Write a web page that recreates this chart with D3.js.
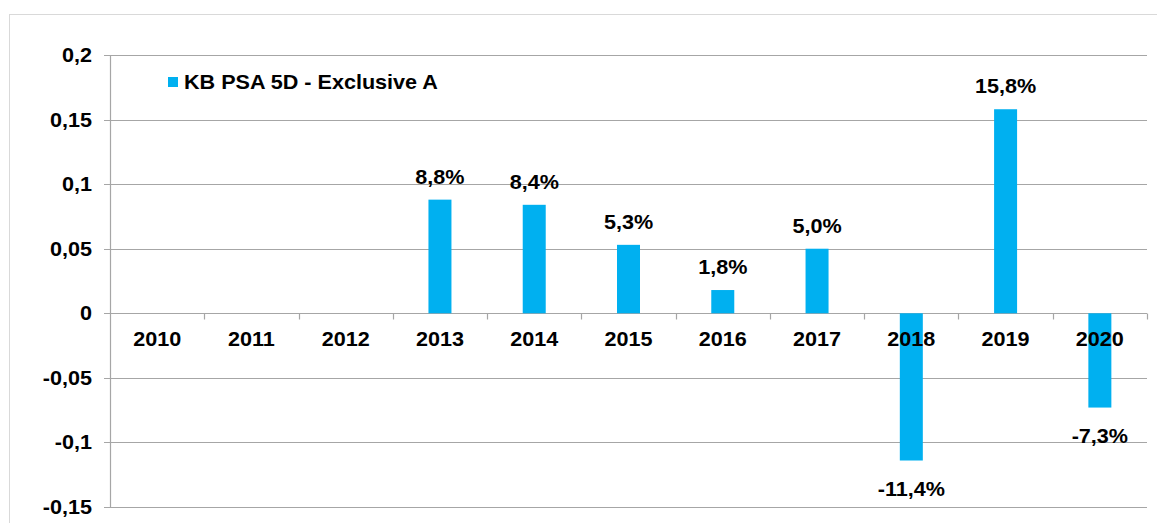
<!DOCTYPE html>
<html>
<head>
<meta charset="utf-8">
<script src="https://cdn.jsdelivr.net/npm/d3@7"></script>
<style>
  body { margin: 0; background: #fff; }
  text { font-family: "Liberation Sans", Arial, sans-serif; font-weight: bold; fill: #000; font-size: 20px; }
</style>
</head>
<body>
<div id="chart"></div>
<script>
var years = ["2010", "2011", "2012", "2013", "2014", "2015", "2016", "2017", "2018", "2019", "2020"];
var values = [null, null, null, 0.088, 0.084, 0.053, 0.018, 0.050, -0.114, 0.158, -0.073];
var yTicks = [0.2, 0.15, 0.1, 0.05, 0, -0.05, -0.1, -0.15];
var seriesName = "KB PSA 5D - Exclusive A";

var W = 1157, H = 523;
var margin = { top: 55, right: 10, bottom: 16, left: 110 };
var width = 1147 - margin.left;
var height = 507 - margin.top;
var sx = 1.08; // texte un peu elargi comme dans l'original

var svg = d3.select("#chart").append("svg")
    .attr("width", W).attr("height", H);

// cadre exterieur
svg.append("rect")
   .attr("x", 9.5).attr("y", 14.5)
   .attr("width", W + 20).attr("height", H)
   .attr("fill", "none").attr("stroke", "#d9d9d9");

var g = svg.append("g").attr("transform", "translate(" + margin.left + "," + margin.top + ")");

var x = d3.scaleBand().domain(years).range([0, width]);
var y = d3.scaleLinear().domain([-0.15, 0.2]).range([height, 0]);

var fmt = function(v) { return String(v).replace(".", ","); };
var pct = function(v) { return (v * 100).toFixed(1).replace(".", ",") + "%"; };
var place = function(px, py) { return "translate(" + px + "," + py + ") scale(" + sx + ",1)"; };

// grille horizontale
g.selectAll(".grid").data(yTicks).enter().append("line")
  .attr("x1", -6).attr("x2", width)
  .attr("y1", function(d) { return Math.round(y(d)) + 0.5; })
  .attr("y2", function(d) { return Math.round(y(d)) + 0.5; })
  .attr("stroke", "#a6a6a6").attr("stroke-width", 1.2);

// axe vertical
g.append("line").attr("x1", 0.5).attr("x2", 0.5).attr("y1", 0).attr("y2", height)
  .attr("stroke", "#a6a6a6").attr("stroke-width", 1.2);

g.selectAll(".ylab").data(yTicks).enter().append("text")
  .attr("transform", function(d) { return place(-18, y(d)); })
  .attr("dy", "0.35em").attr("text-anchor", "end")
  .text(fmt);

// ticks categories sur la ligne zero
var y0 = Math.round(y(0)) + 0.5;
g.selectAll(".xtick").data(years.slice(1).concat(["end"])).enter().append("line")
  .attr("x1", function(d, i) { return Math.round(x.step() * (i + 1)) + 0.5; })
  .attr("x2", function(d, i) { return Math.round(x.step() * (i + 1)) + 0.5; })
  .attr("y1", y0).attr("y2", y0 + 6)
  .attr("stroke", "#a6a6a6").attr("stroke-width", 1.2);

// barres
var bw = 23;
g.selectAll(".bar").data(years).enter()
  .filter(function(d, i) { return values[i] !== null; })
  .append("rect")
  .attr("x", function(d) { return x(d) + x.bandwidth() / 2 - bw / 2; })
  .attr("y", function(d) { var v = values[years.indexOf(d)]; return y(Math.max(0, v)); })
  .attr("width", bw)
  .attr("height", function(d) { var v = values[years.indexOf(d)]; return Math.abs(y(v) - y(0)); })
  .attr("fill", "#00b0f0");

// annees
g.selectAll(".xlab").data(years).enter().append("text")
  .attr("transform", function(d) { return place(x(d) + x.bandwidth() / 2, y(0) + 26); })
  .attr("dy", "0.35em").attr("text-anchor", "middle")
  .text(function(d) { return d; });

// etiquettes de valeurs
g.selectAll(".vlab").data(years).enter()
  .filter(function(d, i) { return values[i] !== null; })
  .append("text")
  .attr("transform", function(d) {
      var v = values[years.indexOf(d)];
      return place(x(d) + x.bandwidth() / 2, v >= 0 ? y(v) - 23 : y(v) + 28);
  })
  .attr("dy", "0.35em").attr("text-anchor", "middle")
  .text(function(d) { return pct(values[years.indexOf(d)]); });

// legende
svg.append("rect").attr("x", 168).attr("y", 77).attr("width", 10).attr("height", 10).attr("fill", "#00b0f0");
svg.append("text").attr("transform", place(184, 82)).attr("dy", "0.35em")
   .text(seriesName);
</script>
</body>
</html>
